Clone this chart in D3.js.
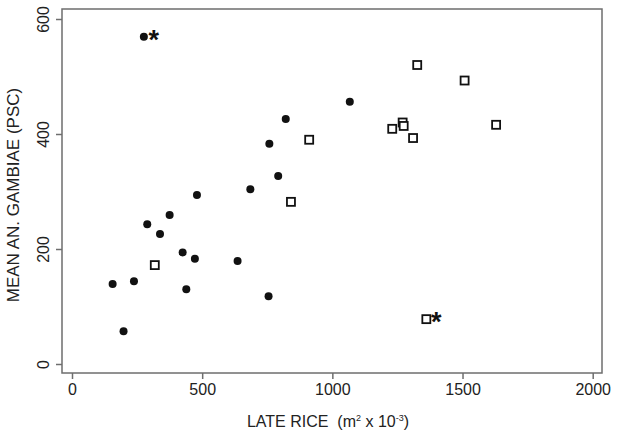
<!DOCTYPE html>
<html>
<head>
<meta charset="utf-8">
<script src="https://cdn.jsdelivr.net/npm/d3@7"></script>
<style>
  body { margin: 0; background: #fff; }
  text { font-family: "Liberation Sans", Arial, sans-serif; }
</style>
</head>
<body>
<script>
// filled circles
let circleX = [276, 821, 758, 792, 685, 480, 375, 1067, 289, 338, 425, 472, 636, 439, 755, 156, 238, 198];
let circleY = [569, 426, 383, 327, 304, 294, 259, 456, 243, 226, 194, 183, 179, 130, 118, 139, 144, 57];
// open squares
let squareX = [911, 841, 1326, 1508, 1629, 1230, 1270, 1274, 1310, 318, 1361];
let squareY = [390, 282, 520, 493, 416, 409, 420, 414, 393, 172, 78];
// points marked with an asterisk
let starX = [276, 1361];
let starY = [569, 78];

let xTicks = [0, 500, 1000, 1500, 2000];
let yTicks = [0, 200, 400, 600];

let svgWidth = 619, svgHeight = 437;
let frame = {left: 62, top: 9, right: 602, bottom: 373};

let svg = d3.select('body').append('svg')
    .attr('width', svgWidth).attr('height', svgHeight);

let xScale = d3.scaleLinear().domain([0, 2000]).range([72, 592.7]);
let yScale = d3.scaleLinear().domain([0, 600]).range([364, 19]);

// frame
svg.append('rect')
    .attr('x', frame.left).attr('y', frame.top)
    .attr('width', frame.right - frame.left).attr('height', frame.bottom - frame.top)
    .attr('fill', 'none').attr('stroke', '#6e6e6e').attr('stroke-width', 1.5);

let x_axis = d3.axisBottom(xScale).tickValues(xTicks).tickFormat(d3.format('d')).tickSize(6).tickPadding(5);
let y_axis = d3.axisLeft(yScale).tickValues(yTicks).tickFormat(d3.format('d')).tickSize(6).tickPadding(4);

let gx = svg.append('g').attr('transform', 'translate(0,' + frame.bottom + ')').call(x_axis);
let gy = svg.append('g').attr('transform', 'translate(' + frame.left + ',0)').call(y_axis);

[gx, gy].forEach(g => {
    g.select('.domain').remove();
    g.selectAll('line').attr('stroke', '#6e6e6e').attr('stroke-width', 1.5);
    g.selectAll('text').attr('fill', '#222').style('font-size', '16px')
        .style('font-family', '"Liberation Sans", Arial, sans-serif');
});

gy.selectAll('.tick text')
    .attr('x', null).attr('dy', null)
    .attr('text-anchor', 'middle')
    .attr('transform', 'translate(-19,0) rotate(-90)')
    .attr('dominant-baseline', 'central');

// axis titles
let xLabel = svg.append('text')
    .attr('x', 328).attr('y', 427)
    .attr('text-anchor', 'middle')
    .attr('fill', '#222').style('font-size', '16px');
xLabel.append('tspan').text('LATE RICE\u00a0\u00a0(m');
xLabel.append('tspan').text('2').style('font-size', '9px').attr('dy', -6);
xLabel.append('tspan').text(' x 10').attr('dy', 6);
xLabel.append('tspan').text('-3').style('font-size', '9px').attr('dy', -6);
xLabel.append('tspan').text(')').attr('dy', 6);

svg.append('text')
    .attr('transform', 'translate(19,195) rotate(-90)')
    .attr('text-anchor', 'middle')
    .attr('fill', '#222').style('font-size', '17px')
    .text('MEAN AN. GAMBIAE (PSC)');

// circles
svg.selectAll('circle.pt')
    .data(circleX)
    .enter()
    .append('circle')
    .attr('class', 'pt')
    .attr('cx', (d) => xScale(d))
    .attr('cy', (d, i) => yScale(circleY[i]))
    .attr('r', 4)
    .attr('fill', '#111');

// squares
svg.selectAll('rect.pt')
    .data(squareX)
    .enter()
    .append('rect')
    .attr('class', 'pt')
    .attr('x', (d) => xScale(d) - 4)
    .attr('y', (d, i) => yScale(squareY[i]) - 4)
    .attr('width', 8).attr('height', 8)
    .attr('fill', '#fff')
    .attr('stroke', '#111').attr('stroke-width', 1.8);

// asterisks
svg.selectAll('text.star')
    .data(starX)
    .enter()
    .append('text')
    .attr('class', 'star')
    .attr('x', (d) => xScale(d) + 10)
    .attr('y', (d, i) => yScale(starY[i]) + 12)
    .attr('text-anchor', 'middle')
    .attr('fill', '#111')
    .style('font-size', '27px').style('font-weight', 'bold')
    .text('*');
</script>
</body>
</html>
